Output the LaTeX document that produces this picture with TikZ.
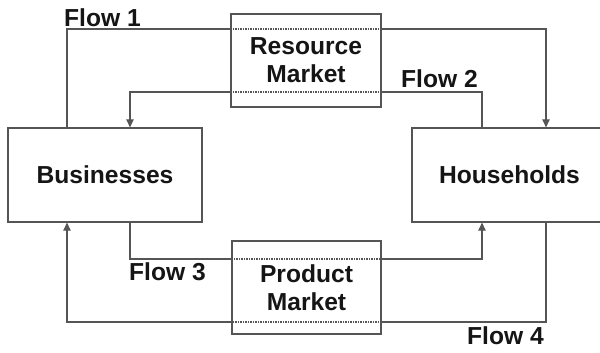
\documentclass[tikz,border=0pt]{standalone}
\usepackage{fontspec}
\setmainfont{Liberation Sans}
\usetikzlibrary{arrows.meta}
\definecolor{ln}{HTML}{555555}
\definecolor{tx}{HTML}{151515}
\begin{document}
\begin{tikzpicture}[x=1pt,y=-1pt,
  box/.style={draw=ln,line width=1.3pt,rectangle,inner sep=0pt,text=tx,
    font=\bfseries\fontsize{24.6}{28}\selectfont,align=center},
  flow/.style={draw=ln,line width=1.1pt},
  arr/.style={flow,-{Triangle[length=8pt,width=7.5pt]}},
  dot/.style={draw=ln,line width=1.1pt,dash pattern=on 1.2pt off 1.3pt},
  lab/.style={anchor=base west,inner sep=0pt,text=tx,font=\bfseries\fontsize{24.6}{28}\selectfont}]
\useasboundingbox (0,0) rectangle (600,353);
% boxes
\node[box,minimum width=194pt,minimum height=94pt] (bus) at (105,175) {Businesses};
\node[box,minimum width=195pt,minimum height=94pt] (hh) at (509.5,175) {Households};
\node[box,minimum width=150pt,minimum height=93pt] (rm) at (306,60.5) {Resource\\Market};
\node[box,minimum width=149pt,minimum height=93pt] (pm) at (306.5,287.5) {Product\\Market};
% guide coordinates
\coordinate (x1) at (67,0);
\coordinate (x2) at (130,0);
\coordinate (x3) at (482,0);
\coordinate (x4) at (546,0);
\coordinate (y1) at (0,29);
\coordinate (y2) at (0,92);
\coordinate (y3) at (0,259);
\coordinate (y4) at (0,322);
% Flow 1
\draw[flow] (bus.north -| x1) |- (rm.west |- y1);
\draw[dot] (rm.west |- y1) -- (rm.east |- y1);
\draw[arr] (rm.east |- y1) -| (hh.north -| x4);
% Flow 2
\draw[flow] (hh.north -| x3) |- (rm.east |- y2);
\draw[dot] (rm.east |- y2) -- (rm.west |- y2);
\draw[arr] (rm.west |- y2) -| (bus.north -| x2);
% Flow 3
\draw[flow] (bus.south -| x2) |- (pm.west |- y3);
\draw[dot] (pm.west |- y3) -- (pm.east |- y3);
\draw[arr] (pm.east |- y3) -| (hh.south -| x3);
% Flow 4
\draw[flow] (hh.south -| x4) |- (pm.east |- y4);
\draw[dot] (pm.east |- y4) -- (pm.west |- y4);
\draw[arr] (pm.west |- y4) -| (bus.south -| x1);
% labels
\node[lab] (f1) at (64,27) {Flow 1};
\node[lab] (f2) at (401,88) {Flow 2};
\node[lab] (f3) at (129,280) {Flow 3};
\node[lab] (f4) at (467,344) {Flow 4};
\end{tikzpicture}
\end{document}
